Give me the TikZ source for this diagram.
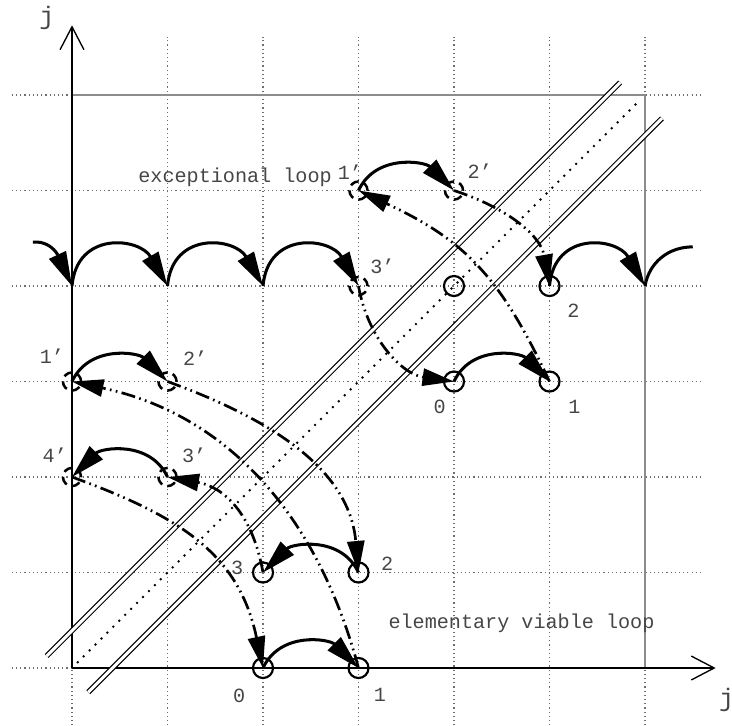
\documentclass[tikz,border=0pt]{standalone}
\usepackage{fontspec}
\setmonofont{Liberation Mono}
\usepackage{tikz}
\usetikzlibrary{
  arrows.meta,
  calc
}
\definecolor{gridcolor}{RGB}{110, 110, 110}
\definecolor{framecolor}{RGB}{140, 140, 140}
\definecolor{labelcolor}{RGB}{70, 70, 70}
\tikzset{
gridline/.style={
  draw=gridcolor,
  line width=0.35pt,
  dash pattern=on 0.35pt off 0.9pt
},
axisline/.style={
  draw=black,
  line width=0.4pt,
  -{Straight Barb[length=2.4mm,width=2.5mm]}
},
wall/.style={
  draw=black,
  line width=0.35pt,
  double=white,
  double distance=0.9pt
},
diagline/.style={
  draw=black,
  line width=0.8pt,
  line cap=round,
  dash pattern=on 0pt off 2.5pt
},
site/.style={
  circle,
  draw,
  line width=0.65pt,
  minimum size=2.1mm,
  inner sep=0pt
},
ghostsite/.style={
  site,
  minimum size=1.9mm,
  line width=0.75pt,
  dash pattern=on 2.6pt off 1.6pt
},
numlabel/.style={
  font=\ttfamily\fontsize{6}{7}\selectfont,
  text=labelcolor,
  anchor=base,
  inner sep=0pt
},
axislabel/.style={
  font=\ttfamily\fontsize{7.5}{8}\selectfont,
  text=labelcolor,
  inner sep=0pt
},
hop/.style={
  -{Triangle[length=3.6mm,width=1.9mm]},
  line width=0.9pt
},
jump/.style={
  -{Triangle[length=3.3mm,width=1.8mm]},
  line width=0.8pt,
  dash pattern=on 4.2pt off 1.3pt on 0.5pt off 1.3pt on 0.5pt off 1.3pt
},
tallbend/.style={out=85, in=120, looseness=1.5},
lowbend/.style={out=65, in=135, looseness=1.1},
lowbendback/.style={out=115, in=45, looseness=1.1}
}
\begin{document}
\begin{tikzpicture}
  \useasboundingbox (-0.754,-0.597) rectangle (6.911,6.995);
  % Grid
  \foreach \k in {0,...,6} {
    \draw[gridline] (\k,-0.6) -- (\k,6.61);
    \draw[gridline] (-0.63,\k) -- (6.6,\k);
  }
  % Frame and axes
  \draw[framecolor, line width=0.4pt] (0,6) -- (6,6) -- (6,0);
  \coordinate (origin) at (0,0);
  \coordinate (xend) at (6.74,0);
  \coordinate (yend) at (0,6.73);
  \draw[axisline] (origin) -- (xend);
  \draw[axisline] (origin) -- (yend);
  \node[axislabel] (xlab) at (6.855,-0.335) {j};
  \node[axislabel] (ylab) at (-0.262,6.806) {j};
  % Diagonal walls
  \coordinate (wa1) at (-0.265,0.126);
  \coordinate (wa2) at (5.74,6.131);
  \coordinate (wb1) at (0.171,-0.253);
  \coordinate (wb2) at (6.178,5.756);
  \draw[wall] (wa1) -- (wa2);
  \draw[wall] (wb1) -- (wb2);
  \coordinate (da) at (0.06,0.06);
  \coordinate (db) at (5.95,5.95);
  \draw[diagline] (da) -- (db);
  % Sites
  \node[site] (b0) at (2,0) {};
  \node[site] (b1) at (3,0) {};
  \node[site] (b2) at (3,1) {};
  \node[site] (b3) at (2,1) {};
  \node[ghostsite] (l1) at (0,3) {};
  \node[ghostsite] (l2) at (1,3) {};
  \node[ghostsite] (l3) at (1,2) {};
  \node[ghostsite] (l4) at (0,2) {};
  \node[site] (m0) at (4,3) {};
  \node[site] (m1) at (5,3) {};
  \node[site] (m2) at (5,4) {};
  \node[site] (mx) at (4,4) {};
  \node[ghostsite] (t1) at (3,5) {};
  \node[ghostsite] (t2) at (4,5) {};
  \node[ghostsite] (t3) at (3,4) {};
  % Row of hops
  \coordinate (rin) at (-0.41,4.46);
  \coordinate (r0) at (0,4);
  \coordinate (r1) at (1,4);
  \coordinate (r2) at (2,4);
  \coordinate (r6) at (6,4);
  \coordinate (rout) at (6.5,4.41);
  \draw[hop] (rin) to[out=5, in=115] (r0);
  \draw[hop] (r0) to[tallbend] (r1);
  \draw[hop] (r1) to[tallbend] (r2);
  \draw[hop] (r2) to[tallbend] (t3.center);
  \draw[hop] (m2.center) to[tallbend] (r6);
  \draw[line width=0.9pt] (r6) to[out=80, in=180] (rout);
  % Short hops
  \draw[hop] (b0.center) to[lowbend] (b1.center);
  \draw[hop] (b2.center) to[lowbendback] (b3.center);
  \draw[hop] (l1.center) to[lowbend] (l2.center);
  \draw[hop] (l3.center) to[lowbendback] (l4.center);
  \draw[hop] (m0.center) to[lowbend] (m1.center);
  \draw[hop] (t1.center) to[lowbend] (t2.center);
  % Jumps across the walls
  \draw[jump] (l2.center) to[out=-20, in=95] (b2.center);
  \draw[jump] (b1.center) to[out=105, in=-12] (l1.center);
  \draw[jump] (b3.center) to[out=100, in=-10, looseness=1.1] (l3.center);
  \draw[jump] (l4.center) to[out=-20, in=102, looseness=1.1] (b0.center);
  \draw[jump] (t3.center) to[out=-80, in=172] (m0.center);
  \draw[jump] (m1.center) to[out=115, in=-25, looseness=1.1] (t1.center);
  \draw[jump] (t2.center) to[out=-18, in=100] (m2.center);
  % Labels
  \node[numlabel] (tb0) at (1.75,-0.366) {0};
  \node[numlabel] (tb1) at (3.225,-0.35) {1};
  \node[numlabel] (tb2) at (3.30,1.026) {2};
  \node[numlabel] (tb3) at (1.73,0.974) {3};
  \node[numlabel] (tl1) at (-0.21,3.19) {1’};
  \node[numlabel] (tl2) at (1.29,3.17) {2’};
  \node[numlabel] (tl3) at (1.28,2.147) {3’};
  \node[numlabel] (tl4) at (-0.18,2.157) {4’};
  \node[numlabel] (tm0) at (3.85,2.67) {0};
  \node[numlabel] (tm1) at (5.26,2.67) {1};
  \node[numlabel] (tm2) at (5.25,3.675) {2};
  \node[numlabel] (tt1) at (2.91,5.12) {1’};
  \node[numlabel] (tt2) at (4.27,5.13) {2’};
  \node[numlabel] (tt3) at (3.25,4.126) {3’};
  \node[numlabel] (exc) at (1.707,5.089) {exceptional loop};
  \node[numlabel] (elem) at (4.707,0.419) {elementary viable loop};
\end{tikzpicture}
\end{document}
